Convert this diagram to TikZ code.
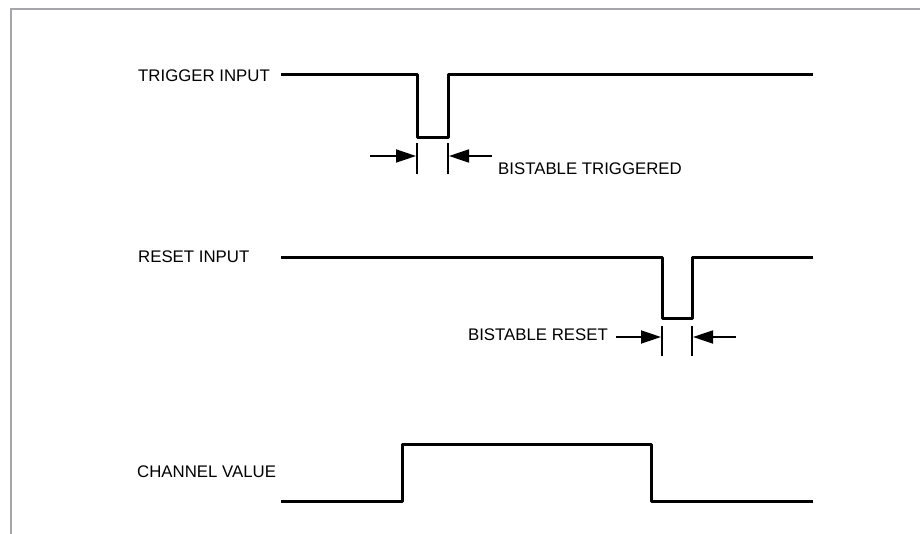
\documentclass[tikz,border=0pt]{standalone}
\usepackage{fontspec}
\setmainfont{Liberation Sans}
\usetikzlibrary{arrows.meta}
\definecolor{framegray}{HTML}{A5A5AA}
\begin{document}
\begin{tikzpicture}[x=1pt,y=-1pt,
  lbl/.style={inner sep=0pt,font=\fontsize{16.8}{19}\selectfont},
  wave/.style={line width=3pt,line join=round},
  tick/.style={line width=1.8pt},
  dimarrow/.style={line width=1.8pt,-{Triangle[length=20pt,width=13pt]}}]
\useasboundingbox (0,0) rectangle (920,534);
\fill[white] (0,0) rectangle (920,534);
% frame
\draw[framegray,line width=2pt] (11,534) -- (11,9) -- (920,9);
% labels
\node[lbl,anchor=west] (trig) at (138,76) {TRIGGER INPUT};
\node[lbl,anchor=west] (reset) at (138,257) {RESET INPUT};
\node[lbl,anchor=west] (chan) at (137,472) {CHANNEL VALUE};
\node[lbl,anchor=west] (btrig) at (498,169) {BISTABLE TRIGGERED};
\node[lbl,anchor=east] (breset) at (608,335) {BISTABLE RESET};
% trigger waveform
\coordinate (t0) at (281,75);
\coordinate (t1) at (417,75);
\coordinate (t2) at (417,138);
\coordinate (t3) at (448,138);
\coordinate (t4) at (448,75);
\coordinate (t5) at (813,75);
\draw[wave] (t0) -- (t1) -- (t2) -- (t3) -- (t4) -- (t5);
% trigger dimension
\coordinate (ta) at (417,143);
\coordinate (tb) at (417,174);
\coordinate (tc) at (448,143);
\coordinate (td) at (448,174);
\draw[tick] (ta) -- (tb);
\draw[tick] (tc) -- (td);
\coordinate (tl) at (370,156);
\coordinate (tlt) at (416,156);
\coordinate (tr) at (492,156);
\coordinate (trt) at (449,156);
\draw[dimarrow] (tl) -- (tlt);
\draw[dimarrow] (tr) -- (trt);
% reset waveform
\coordinate (r0) at (281,258);
\coordinate (r1) at (662,258);
\coordinate (r2) at (662,318);
\coordinate (r3) at (692,318);
\coordinate (r4) at (692,258);
\coordinate (r5) at (813,258);
\draw[wave] (r0) -- (r1) -- (r2) -- (r3) -- (r4) -- (r5);
% reset dimension
\coordinate (ra) at (662,326);
\coordinate (rb) at (662,356);
\coordinate (rc) at (692,326);
\coordinate (rd) at (692,356);
\draw[tick] (ra) -- (rb);
\draw[tick] (rc) -- (rd);
\coordinate (rl) at (616,337);
\coordinate (rlt) at (661,337);
\coordinate (rr) at (736,337);
\coordinate (rrt) at (693,337);
\draw[dimarrow] (rl) -- (rlt);
\draw[dimarrow] (rr) -- (rrt);
% channel waveform
\coordinate (c0) at (281,501);
\coordinate (c1) at (402,501);
\coordinate (c2) at (402,444);
\coordinate (c3) at (651,444);
\coordinate (c4) at (651,501);
\coordinate (c5) at (813,501);
\draw[wave] (c0) -- (c1) -- (c2) -- (c3) -- (c4) -- (c5);
\end{tikzpicture}
\end{document}
